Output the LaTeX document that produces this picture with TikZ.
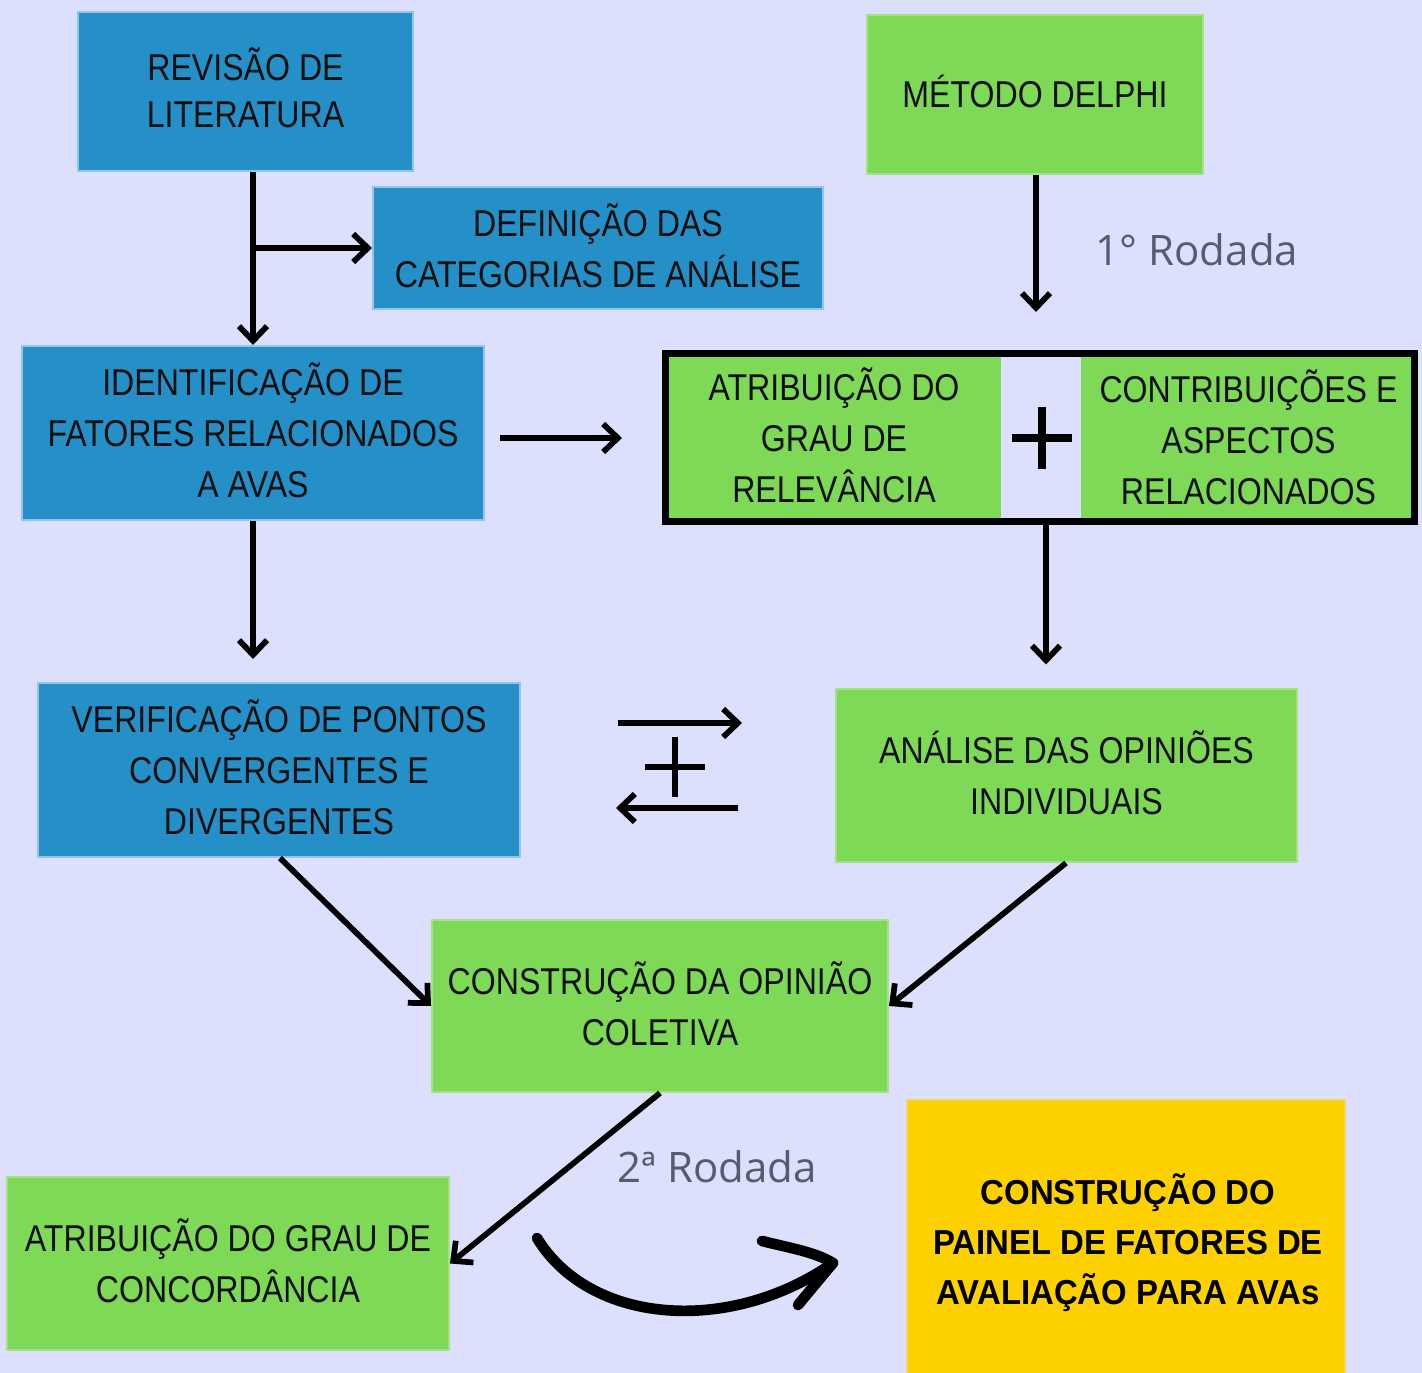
\documentclass[tikz,border=0pt]{standalone}
\usepackage{fontspec}
\usetikzlibrary{arrows.meta,fit,calc}
\newfontfamily\boxfont[FakeStretch=0.86]{Liberation Sans}
\newfontfamily\yfont[FakeStretch=0.95]{Liberation Sans}
\newfontfamily\rodfont{Open Sans}
\definecolor{bgc}{RGB}{221,224,252}
\definecolor{blueF}{RGB}{37,144,199}
\definecolor{blueB}{RGB}{150,195,235}
\definecolor{greenF}{RGB}{126,217,87}
\definecolor{greenB}{RGB}{165,225,135}
\definecolor{yellowF}{RGB}{253,208,0}
\definecolor{yellowB}{RGB}{240,215,100}
\definecolor{textc}{RGB}{15,15,15}
\definecolor{rodc}{RGB}{86,91,112}
\begin{document}
\begin{tikzpicture}[x=0.75pt,y=-0.75pt,
  shapebox/.style={inner sep=0pt},
  bluebox/.style={shapebox, fill=blueF, draw=blueB, line width=1.5pt},
  greenbox/.style={shapebox, fill=greenF, draw=greenB, line width=1.5pt},
  yellowbox/.style={shapebox, fill=yellowF, draw=yellowB, line width=1.5pt},
  btext/.style={inner sep=0pt, align=center, font=\boxfont\fontsize{28}{38.3}\selectfont, text=textc},
  ytext/.style={align=center, font=\yfont\bfseries\fontsize{26}{37.5}\selectfont, text=black},
  arr/.style={line width=4.3pt, -{Straight Barb[length=11pt,width=21pt]}},
  plus/.style={line width=3.8pt},
  bigplus/.style={line width=6pt},
  rodada/.style={font=\rodfont\fontsize{31.5}{40}\selectfont, text=rodc, anchor=base}
]
\useasboundingbox (0,0) rectangle (1422,1373);
\fill[bgc] (0,0) rectangle (1422,1373);

% boxes
\node[bluebox, fit={(78,12) (413,171)}] (rev) {};
\node[bluebox, fit={(373,187) (823,309)}] (defn) {};
\node[bluebox, fit={(22,346) (484,520)}] (ident) {};
\node[greenbox, fit={(867,15) (1203,174)}] (delphi) {};
\node[shapebox, fill=greenF, fit={(667,357) (1001,519)}] (grau) {};
\node[shapebox, fill=greenF, fit={(1081,357) (1412,519)}] (contrib) {};
\node[draw=black, line width=5.25pt, inner sep=0pt, fit={(665,354) (1414,521)}] (big) {};
\node[bluebox, fit={(38,683) (520,857)}] (verif) {};
\node[greenbox, fit={(836,689) (1297,862)}] (analise) {};
\node[greenbox, fit={(432,920) (888,1092)}] (colet) {};
\node[greenbox, fit={(7,1177) (449,1350)}] (concord) {};
\node[yellowbox, fit={(907,1100) (1345,1380)}] (painel) {};

% texts
\node[btext, font=\boxfont\fontsize{28}{35.3}\selectfont] (rev-t) at ($(rev.center)+(0,-4)$) {REVISÃO DE\\LITERATURA};
\node[btext] (defn-t) at ($(defn.center)+(0,-2)$) {DEFINIÇÃO DAS\\CATEGORIAS DE ANÁLISE};
\node[btext] (ident-t) at ($(ident.center)+(0,-2.5)$) {IDENTIFICAÇÃO DE\\FATORES RELACIONADOS\\A AVAS};
\node[btext] (delphi-t) at ($(delphi.center)+(0,-3)$) {MÉTODO DELPHI};
\node[btext] (grau-t) at ($(grau.center)+(0,-2.5)$) {ATRIBUIÇÃO DO\\GRAU DE\\RELEVÂNCIA};
\node[btext] (contrib-t) at ($(contrib.center)+(2,-0.5)$) {CONTRIBUIÇÕES E\\ASPECTOS\\RELACIONADOS};
\node[btext] (verif-t) at ($(verif.center)+(0,-2.5)$) {VERIFICAÇÃO DE PONTOS\\CONVERGENTES E\\DIVERGENTES};
\node[btext] (analise-t) at ($(analise.center)+(0,-2.5)$) {ANÁLISE DAS OPINIÕES\\INDIVIDUAIS};
\node[btext] (colet-t) at ($(colet.center)+(0,-2.5)$) {CONSTRUÇÃO DA OPINIÃO\\COLETIVA};
\node[btext] (concord-t) at ($(concord.center)+(0,-3)$) {ATRIBUIÇÃO DO GRAU DE\\CONCORDÂNCIA};
\node[ytext] (painel-t) at (1128,1243) {CONSTRUÇÃO DO\\PAINEL DE FATORES DE\\AVALIAÇÃO PARA AVAs};

% labels
\node[rodada] (r1) at (1197,266) {1° Rodada};
\node[rodada] (r2) at (717,1182) {2ª Rodada};

% plus signs
\coordinate (p1) at (1042,438);
\draw[bigplus] ($(p1)+(-30,0)$) -- ($(p1)+(30,0)$);
\draw[bigplus] ($(p1)+(0,-31)$) -- ($(p1)+(0,31)$);
\coordinate (p2) at (675,767);
\draw[plus] ($(p2)+(-30,0)$) -- ($(p2)+(30,0)$);
\draw[plus] ($(p2)+(0,-30)$) -- ($(p2)+(0,30)$);

% connectors
\draw[arr] (253,0 |- rev.south) -- (253,0 |- ident.north);
\draw[arr] (253,0 |- defn.west) -- (defn.west);
\draw[arr] (1036,0 |- delphi.south) -- (1036,312);
\coordinate (ia) at (500,438);
\coordinate (ib) at (622,438);
\draw[arr] (ia) -- (ib);
\draw[arr] (ident.south) -- ++(0,138);
\draw[arr] (1046,0 |- big.south) -- ++(0,140);
\coordinate (ta) at (618,723);
\coordinate (tb) at (742,723);
\coordinate (ba) at (738,808);
\coordinate (bb) at (616,808);
\draw[arr] (ta) -- (tb);
\draw[arr] (ba) -- (bb);
\draw[arr] (280,0 |- verif.south) -- (colet.west);
\draw[arr] (1066,0 |- analise.south) -- (colet.east);
\draw[arr] (660,0 |- colet.south) -- (concord.east);

% curved arrow
\coordinate (ca) at (537,1238);
\coordinate (cb) at (833,1263);
\draw[line width=8pt, line cap=round] (ca) .. controls (590,1325) and (730,1335) .. (cb);
\draw[line width=8pt, line cap=round, line join=round] (762,1241) .. controls (790,1248) and (815,1252) .. (cb) -- (798,1305);
\end{tikzpicture}
\end{document}
